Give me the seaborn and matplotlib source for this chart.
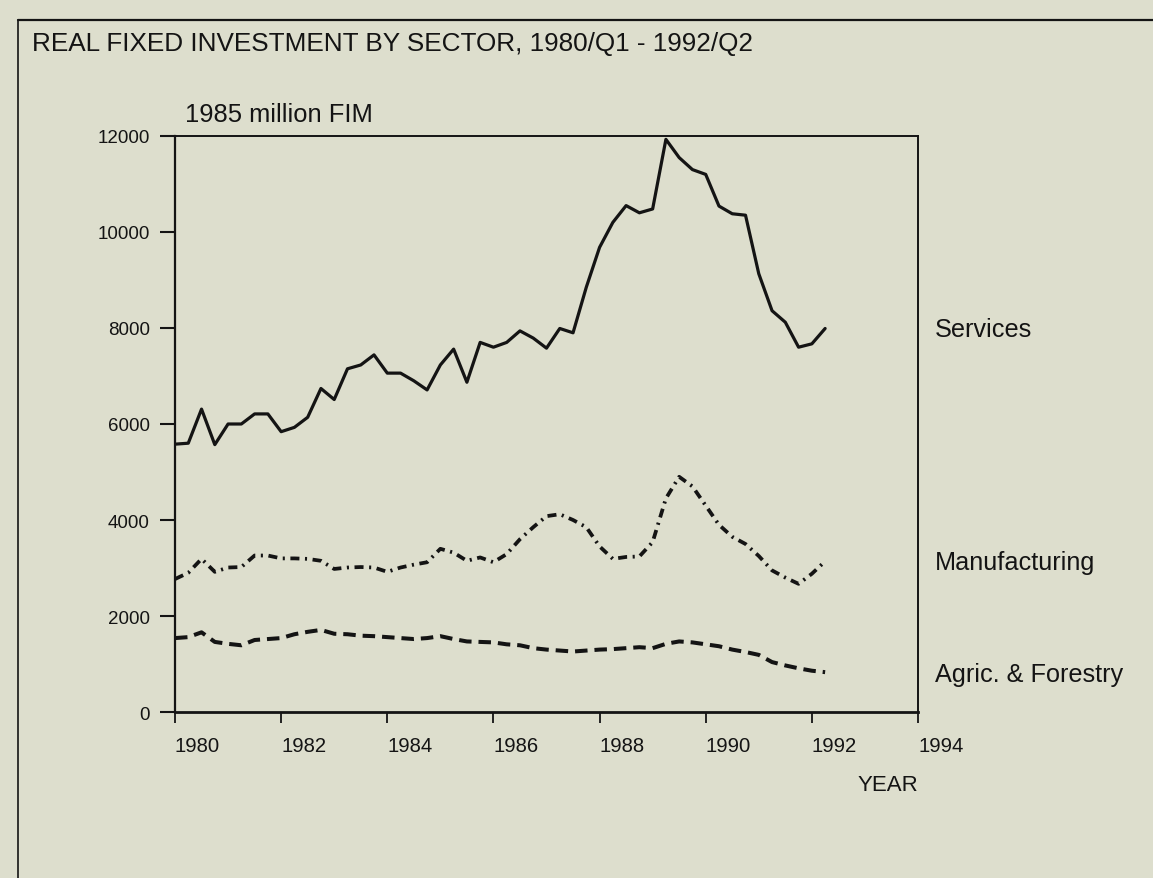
import numpy as np
import pandas as pd
import matplotlib
matplotlib.use("Agg")
import matplotlib.pyplot as plt
from matplotlib.lines import Line2D
import seaborn as sns

# Quarterly observations, 1980/Q1 - 1992/Q2 (1985 million FIM)
quarters = pd.period_range("1980Q1", "1992Q2", freq="Q")

services = [5580, 5600, 6310, 5570, 6000, 6000, 6210, 6210, 5840, 5930,
            6140, 6740, 6510, 7150, 7230, 7440, 7060, 7060, 6900, 6710,
            7230, 7560, 6870, 7700, 7600, 7700, 7940, 7790, 7580, 7990,
            7900, 8850, 9680, 10200, 10550, 10400, 10480, 11930, 11550, 11300,
            11200, 10540, 10380, 10350, 9130, 8360, 8120, 7600, 7670, 7990]

manufacturing = [2770, 2900, 3190, 2920, 3010, 3020, 3260, 3260, 3200, 3200,
                 3190, 3150, 2980, 3010, 3020, 3010, 2920, 3010, 3070, 3120,
                 3400, 3320, 3150, 3220, 3120, 3290, 3600, 3850, 4080, 4120,
                 4000, 3850, 3450, 3190, 3230, 3240, 3540, 4450, 4900, 4700,
                 4300, 3900, 3650, 3500, 3250, 2950, 2800, 2670, 2880, 3140]

agriculture = [1540, 1560, 1660, 1460, 1420, 1390, 1500, 1520, 1540, 1620,
               1670, 1710, 1630, 1620, 1590, 1580, 1560, 1540, 1520, 1540,
               1580, 1520, 1470, 1460, 1450, 1410, 1390, 1330, 1300, 1280,
               1260, 1280, 1300, 1310, 1330, 1350, 1330, 1420, 1470, 1450,
               1410, 1370, 1300, 1250, 1190, 1040, 970, 910, 860, 830]

series_names = ["Services", "Manufacturing", "Agric. & Forestry"]
year_ticks = [1980, 1982, 1984, 1986, 1988, 1990, 1992, 1994]
value_ticks = [0, 2000, 4000, 6000, 8000, 10000, 12000]

title = "REAL FIXED INVESTMENT BY SECTOR, 1980/Q1 - 1992/Q2"
unit_label = "1985 million FIM"
x_label = "YEAR"

# Decimal year for each quarter
year_pos = quarters.year + (quarters.quarter - 1) / 4.0

df = pd.DataFrame({
    "year": np.tile(year_pos, 3),
    "value": services + manufacturing + agriculture,
    "sector": np.repeat(series_names, len(quarters)),
})

sns.set_theme(style="white")
paper = "#dddecd"
ink = "#141414"
plt.rcParams["font.family"] = ["Liberation Sans", "DejaVu Sans"]
plt.rcParams["lines.scale_dashes"] = False

W, H = 1153, 879
fig = plt.figure(figsize=(W / 100, H / 100), dpi=100, facecolor=paper)


def fx(px):
    return px / W


def fy(py):
    return 1 - py / H


ax = fig.add_axes([fx(175), fy(713), fx(918) - fx(175), fy(137) - fy(713)])
ax.set_facecolor(paper)

styles = {
    "Services": dict(linestyle="-", linewidth=2.3),
    "Manufacturing": dict(linestyle=(0, (6.5, 4, 1.5, 4)), linewidth=2.7),
    "Agric. & Forestry": dict(linestyle=(0, (9, 5)), linewidth=2.9),
}
for name in series_names:
    sns.lineplot(data=df[df["sector"] == name], x="year", y="value",
                 ax=ax, color=ink, legend=False, **styles[name])

ax.set_xlim(1980, 1994)
ax.set_ylim(0, 12000)
ax.set_xticks(year_ticks)
ax.set_yticks(value_ticks)
ax.set_xticklabels([str(y) for y in year_ticks], ha="left")
ax.set_yticklabels([str(v) for v in value_ticks])
ax.set_xlabel("")
ax.set_ylabel("")

for side in ["left", "right", "top", "bottom"]:
    ax.spines[side].set_visible(True)
    ax.spines[side].set_color(ink)
    ax.spines[side].set_linewidth(1.4)
ax.spines["bottom"].set_linewidth(2.0)
ax.spines["left"].set_linewidth(1.6)

ax.tick_params(axis="x", direction="out", length=8, width=1.3, color=ink,
               labelsize=14.6, labelcolor=ink, pad=9, bottom=True)
ax.tick_params(axis="y", direction="out", length=11, width=1.5, color=ink,
               labelsize=13.5, labelcolor=ink, pad=7, left=True)

# Outer frame of the figure panel
fig.add_artist(Line2D([fx(18), fx(18)], [fy(21), 0], color=ink, lw=1.2))
fig.add_artist(Line2D([fx(18), 1], [fy(21), fy(21)], color=ink, lw=1.6))

fig.text(fx(32), fy(44), title, fontsize=18.8, color=ink, ha="left", va="center")
fig.text(fx(185), fy(115), unit_label, fontsize=18.4, color=ink,
         ha="left", va="center")
fig.text(fx(918), fy(786), x_label, fontsize=16, color=ink,
         ha="right", va="center")

label_y = {"Services": 330, "Manufacturing": 563, "Agric. & Forestry": 675}
for name in series_names:
    fig.text(fx(935), fy(label_y[name]), name, fontsize=18.2, color=ink,
             ha="left", va="center")

fig.savefig("out.png", dpi=100, facecolor=paper)
